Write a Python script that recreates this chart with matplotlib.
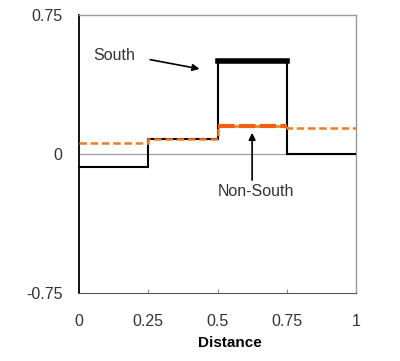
import matplotlib
matplotlib.use("Agg")
import matplotlib.pyplot as plt

plt.rcParams["font.family"] = ["Liberation Sans", "DejaVu Sans"]

# step edges along distance, one value per segment
edges = [0, 0.25, 0.5, 0.75, 1.0]
south = [-0.07, 0.08, 0.50, 0.0]
non_south = [0.06, 0.08, 0.15, 0.14]

x_ticks = [0, 0.25, 0.5, 0.75, 1]
x_labels = ["0", "0.25", "0.5", "0.75", "1"]
y_ticks = [-0.75, 0, 0.75]
y_labels = ["-0.75", "0", "0.75"]

fig = plt.figure(figsize=(4, 3.61), dpi=100)
ax = fig.add_axes([0.1975, 0.188, 0.6925, 0.77])

ax.axhline(0, color="#9aa0a6", linewidth=0.9, zorder=1)

ax.stairs(south, edges, baseline=None, color="black", linewidth=1.5, zorder=3)
# the peak segment is drawn heavier
ax.plot(edges[2:4], [south[2], south[2]], color="black", linewidth=4, zorder=4)

ax.stairs(non_south, edges, baseline=None, color="#f07a20",
          linewidth=1.8, linestyle=(0, (3, 1.5)), zorder=5)
ax.plot(edges[2:4], [non_south[2], non_south[2]], color="#f06010",
        linewidth=3, linestyle=(0, (4, 1)), zorder=5)

arrow = dict(arrowstyle="-|>", color="black", lw=1.2,
             shrinkA=0, shrinkB=0, mutation_scale=10)
ax.text(0.05, 0.53, "South", fontsize=11.5, color="#333333",
        va="center", ha="left")
ax.annotate("", xy=(0.435, 0.46), xytext=(0.257, 0.51), arrowprops=arrow)
ax.text(0.64, -0.2, "Non-South", fontsize=11.5, color="#333333",
        va="center", ha="center")
ax.annotate("", xy=(0.625, 0.115), xytext=(0.625, -0.14), arrowprops=arrow)

ax.set_xlim(0, 1)
ax.set_ylim(-0.75, 0.75)
ax.set_xticks(x_ticks)
ax.set_xticklabels(x_labels)
ax.set_yticks(y_ticks)
ax.set_yticklabels(y_labels)
ax.tick_params(axis="both", labelsize=11.5, labelcolor="#333333", direction="in",
               length=3, color="#888888")
ax.tick_params(axis="x", pad=15)
ax.tick_params(axis="y", pad=12, length=0)
ax.set_xlabel("Distance", fontsize=11, fontweight="bold")
ax.xaxis.set_label_coords(0.545, -0.155)

ax.spines["left"].set_color("black")
ax.spines["left"].set_linewidth(1.3)
ax.spines["bottom"].set_color("#555555")
for side in ("top", "right"):
    ax.spines[side].set_color("#999999")
    ax.spines[side].set_linewidth(1.0)

fig.savefig("out.png", dpi=100)
